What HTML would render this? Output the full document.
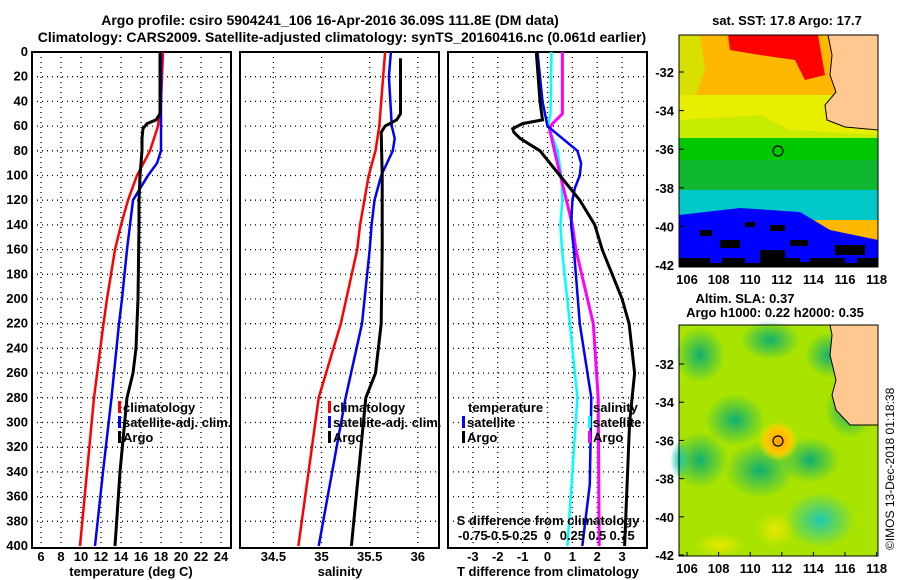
<!DOCTYPE html>
<html><head><meta charset="utf-8">
<style>
body{margin:0;background:#fff;}
svg{display:block;font-family:"Liberation Sans",sans-serif;font-weight:bold;}
text{font-size:13px;fill:#000;}
</style></head>
<body>
<svg id="c" width="900" height="580" viewBox="0 0 900 580">
<text x="330" y="25" text-anchor="middle" style="font-size:14px">Argo profile: csiro 5904241_106 16-Apr-2016 36.09S 111.8E (DM data)</text>
<text x="342" y="42" text-anchor="middle" style="font-size:14px">Climatology: CARS2009. Satellite-adjusted climatology: synTS_20160416.nc (0.061d earlier)</text>
<g id="g"></g>
</svg>
<script>
// ---- data ----
const depthTicks=[0,20,40,60,80,100,120,140,160,180,200,220,240,260,280,300,320,340,360,380,400];
const tempTicks=[6,8,10,12,14,16,18,20,22,24];
const salTicks=[34.5,35,35.5,36];
const tdiffTicks=[-3,-2,-1,0,1,2,3];
const sdiffTicks=[-0.75,-0.5,-0.25,0,0.25,0.5,0.75];
const sdiffTickLabels=["-0.75","-0.5","-0.25","0","0.25","0.5","0.75"];

const climTD=[0,40,60,80,100,120,140,160,200,220,280,340,400];
const climT=[18.2,18.0,17.7,16.9,15.6,14.7,14.0,13.4,12.6,12.25,11.3,10.6,9.9];
const satTD=[0,80,90,100,120,140,160,200,220,280,340,400];
const satT=[18.0,18.0,17.6,16.7,15.2,14.9,14.6,14.1,13.8,13.05,12.2,11.4];
const argoTD=[0,50,55,58,62,70,80,100,120,140,200,240,260,280,340,400];
const argoT=[17.9,17.9,17.5,16.6,16.2,16.1,16.1,15.9,15.8,15.8,15.7,15.5,15.2,14.6,13.9,13.4];

const climSD=[0,60,80,100,140,160,220,280,400];
const climS=[35.66,35.6,35.56,35.49,35.4,35.37,35.2,34.97,34.76];
const satSD=[0,20,60,70,80,100,120,140,160,220,280,400];
const satS=[35.72,35.7,35.73,35.76,35.74,35.62,35.55,35.52,35.5,35.42,35.25,34.97];
const argoSD=[5,30,50,55,60,65,100,160,220,260,280,400];
const argoS=[35.82,35.82,35.82,35.78,35.66,35.62,35.63,35.63,35.62,35.56,35.46,35.31];

const dTD=[0,40,55,58,62,65,70,80,100,120,140,160,180,200,220,260,280,300,400];
const argoDT=[-0.45,-0.3,-0.2,-1.0,-1.4,-1.35,-1.1,-0.3,0.5,1.3,1.9,2.2,2.6,3.0,3.28,3.5,3.4,3.3,3.1];
const satDD=[0,40,60,80,90,100,110,120,140,160,220,280,350,400];
const satDT=[-0.4,-0.2,0.0,1.2,1.35,1.3,1.1,1.0,0.95,1.06,1.3,1.76,1.7,1.4];
const sDD=[0,50,58,62,80,100,120,140,160,220,280,400];
const argoDS=[0.15,0.15,0.05,0.02,0.07,0.13,0.19,0.25,0.285,0.46,0.51,0.52];
const satDS=[0.04,0.03,0.01,0.02,0.1,0.14,0.15,0.13,0.146,0.225,0.3,0.2];

// ---- helpers ----
const NS="http://www.w3.org/2000/svg";
const G=document.getElementById('g');
function mk(t,a,p){const e=document.createElementNS(NS,t);for(const k in a)e.setAttribute(k,a[k]);(p||G).appendChild(e);return e;}
const Y0=52,Y1=546;
const yD=d=>Y0+(d/400)*(Y1-Y0);
const panels=[{x0:32,x1:231,lo:5.1,hi:25,name:'temperature'},{x0:240,x1:439,lo:34.153,hi:36.22,name:'salinity'},{x0:448,x1:647,lo:-4,hi:4,name:'tdiff'}];
const sx=(p,v)=>p.x0+(v-p.lo)/(p.hi-p.lo)*(p.x1-p.x0);

depthTicks.forEach(d=>{
  const t=mk('text',{x:28,y:yD(d)+4,'text-anchor':'end'});t.textContent=d;
  
  
});
const xTickSets=[tempTicks,salTicks,tdiffTicks];
panels.forEach((p,i)=>{
  const pg=mk('g',{});
  
  
  depthTicks.slice(1,-1).forEach(d=>mk('line',{x1:p.x0,x2:p.x1,y1:yD(d),y2:yD(d),stroke:'#000','stroke-dasharray':'1,4','stroke-width':1.3},pg));
  xTickSets[i].forEach(v=>{
    const x=sx(p,v);
    mk('line',{x1:x,x2:x,y1:Y0,y2:Y1+2,stroke:'#000','stroke-dasharray':'1,4','stroke-width':1.3},pg);
    const t=mk('text',{x:x,y:561,'text-anchor':'middle'},pg);t.textContent=v;
    
    
  });
  mk('rect',{x:p.x0,y:Y0,width:p.x1-p.x0,height:Y1+2-Y0,fill:'none',stroke:'#000','stroke-width':2},pg);
});
function line(p,vals,depths,col,w,name,scale){
  const pts=vals.map((v,k)=>sx(p,v*(scale||1)).toFixed(1)+','+yD(depths[k]).toFixed(1)).join(' ');
  const e=mk('polyline',{points:pts,fill:'none',stroke:col,'stroke-width':w});
  
  
}
line(panels[0],climT,climTD,'#f00',2.5,'temp-climatology-line');
line(panels[0],satT,satTD,'#00f',2.5,'temp-satellite-line');
line(panels[0],argoT,argoTD,'#000',3,'temp-argo-line');
line(panels[1],climS,climSD,'#f00',2.5,'sal-climatology-line');
line(panels[1],satS,satSD,'#00f',2.5,'sal-satellite-line');
line(panels[1],argoS,argoSD,'#000',3,'sal-argo-line');
line(panels[2],satDS,sDD,'#0ff',2.5,'sdiff-satellite-line',4);
line(panels[2],argoDS,sDD,'#f0f',3,'sdiff-argo-line',4);
line(panels[2],satDT,satDD,'#00f',2.5,'tdiff-satellite-line');
line(panels[2],argoDT,dTD,'#000',3,'tdiff-argo-line');

function leg(x,y,col,label,name){
  if(col)mk('rect',{x:x,y:y-11,width:3,height:12,fill:col});
  const t=mk('text',{x:x+5,y:y});t.textContent=label;
  
  
}
leg(118,412,'#f00','climatology','legend-climatology');
leg(118,427,'#00f','satellite-adj. clim.','legend-satellite-adj');
leg(118,442,'#000','Argo','legend-argo');
leg(328,412,'#f00','climatology','legend-climatology-2');
leg(328,427,'#00f','satellite-adj. clim.','legend-satellite-adj-2');
leg(328,442,'#000','Argo','legend-argo-2');
leg(463,412,null,'temperature','legend-temperature-title');
leg(462,427,'#00f','satellite','legend-t-satellite');
leg(462,442,'#000','Argo','legend-t-argo');
leg(588,412,null,'salinity','legend-salinity-title');
leg(588,427,'#0ff','satellite','legend-s-satellite');
leg(588,442,'#f0f','Argo','legend-s-argo');
{const t=mk('text',{x:548,y:525,'text-anchor':'middle'});t.textContent='S difference from climatology';
}
sdiffTicks.forEach((v,k)=>{const t=mk('text',{x:sx(panels[2],v*4),y:540,'text-anchor':'middle'});t.textContent=sdiffTickLabels[k];
});
[['temperature (deg C)',131,'temp-axis-title'],['salinity',340,'sal-axis-title'],['T difference from climatology',548,'tdiff-axis-title']].forEach(a=>{
  const t=mk('text',{x:a[1],y:576,'text-anchor':'middle'});t.textContent=a[0];
  });
</script>

<svg width="900" height="580" style="position:absolute;left:0;top:0">
<defs>
<radialGradient id="blobG"><stop offset="0" stop-color="#10b070"/><stop offset="1" stop-color="#10b070" stop-opacity="0"/></radialGradient>
<radialGradient id="blobO"><stop offset="0" stop-color="#ffa000"/><stop offset="0.6" stop-color="#ffc800"/><stop offset="1" stop-color="#ffe000" stop-opacity="0"/></radialGradient>
<radialGradient id="blobY"><stop offset="0" stop-color="#e8e800"/><stop offset="1" stop-color="#e8e800" stop-opacity="0"/></radialGradient>
<radialGradient id="blobC"><stop offset="0" stop-color="#20c8b0"/><stop offset="1" stop-color="#20c8b0" stop-opacity="0"/></radialGradient>
</defs>
<text x="787" y="25" text-anchor="middle">sat. SST: 17.8 Argo: 17.7</text>
<g>
<rect x="679" y="35" width="199" height="232" fill="#ffb800"/>
<polygon points="679,35 700,35 705,70 690,110 679,115" fill="#d8e000"/>
<rect x="679" y="95" width="199" height="40" fill="#e8ee00"/>
<polygon points="679,120 760,115 790,130 878,135 878,150 679,150" fill="#c8ec00"/>
<rect x="679" y="138" width="199" height="55" fill="#00c800"/>
<rect x="679" y="160" width="199" height="35" fill="#10b830"/>
<rect x="679" y="190" width="199" height="30" fill="#00c8c8"/>
<polygon points="679,215 740,208 800,212 830,230 878,240 878,267 679,267" fill="#0000ff"/>
<polygon points="728,35 818,35 825,75 805,80 795,60 760,55 730,50" fill="#ff0000"/>
<rect x="679" y="258" width="199" height="9" fill="#000"/>
<rect x="710" y="258" width="12" height="5" fill="#0000ff"/>
<rect x="745" y="258" width="15" height="5" fill="#0000ff"/>
<rect x="800" y="258" width="10" height="4" fill="#0000ff"/>
<rect x="845" y="258" width="12" height="5" fill="#0000ff"/>
<rect x="720" y="240" width="20" height="8" fill="#000"/>
<rect x="770" y="225" width="15" height="6" fill="#000"/>
<rect x="835" y="245" width="30" height="10" fill="#000"/>
<rect x="760" y="250" width="25" height="8" fill="#000"/>
<rect x="700" y="230" width="12" height="6" fill="#000"/>
<rect x="745" y="222" width="10" height="5" fill="#000"/>
<rect x="790" y="240" width="18" height="6" fill="#000"/>
<polygon points="828,35 878,35 878,130 845,127 827,120 825,105 836,92 830,75 832,55" fill="#ffc890" stroke="#000" stroke-width="1"/>
<circle cx="778" cy="151" r="5" fill="none" stroke="#000" stroke-width="1.2"/>
<rect x="679" y="35" width="199" height="232" fill="none" stroke="#000" stroke-width="1"/>
</g>
<text x="745" y="303" text-anchor="middle">Altim. SLA: 0.37</text>
<text x="775" y="317" text-anchor="middle">Argo h1000: 0.22 h2000: 0.35</text>
<g>
<rect x="679" y="325" width="199" height="231" fill="#a8e400"/>
<ellipse cx="700" cy="355" rx="25" ry="28" fill="url(#blobG)"/>
<ellipse cx="770" cy="340" rx="30" ry="20" fill="url(#blobG)"/>
<ellipse cx="735" cy="420" rx="30" ry="26" fill="url(#blobG)"/>
<ellipse cx="700" cy="460" rx="28" ry="28" fill="url(#blobG)"/>
<ellipse cx="760" cy="470" rx="35" ry="28" fill="url(#blobG)"/>
<ellipse cx="820" cy="520" rx="35" ry="28" fill="url(#blobC)"/>
<ellipse cx="810" cy="460" rx="30" ry="23" fill="url(#blobG)"/>
<ellipse cx="850" cy="410" rx="25" ry="28" fill="url(#blobG)"/>
<ellipse cx="830" cy="355" rx="25" ry="23" fill="url(#blobG)"/>
<ellipse cx="680" cy="460" rx="10" ry="20" fill="url(#blobC)"/>
<ellipse cx="778" cy="441" rx="20" ry="20" fill="url(#blobO)"/>
<ellipse cx="775" cy="530" rx="20" ry="18" fill="url(#blobY)"/>
<ellipse cx="720" cy="545" rx="25" ry="12" fill="url(#blobY)"/>
<polygon points="830,325 878,325 878,425 850,425 836,410 832,395 836,380 830,355 832,335" fill="#ffc890" stroke="#000" stroke-width="1"/>
<circle cx="778" cy="441" r="5" fill="none" stroke="#000" stroke-width="1.2"/>
<rect x="679" y="325" width="199" height="231" fill="none" stroke="#000" stroke-width="1"/>
</g>
<g id="maplabels"></g>
<text transform="translate(894,550) rotate(-90)" style="font-size:12px;font-weight:normal">©IMOS 13-Dec-2018 01:18:38</text>
</svg>
<script>
const lonTicks=[106,108,110,112,114,116,118];
const latTicks=[-32,-34,-36,-38,-40,-42];
const ML=document.getElementById('maplabels');
const NS2="http://www.w3.org/2000/svg";
function mk2(t,a){const e=document.createElementNS(NS2,t);for(const k in a)e.setAttribute(k,a[k]);ML.appendChild(e);return e;}
const lonX=v=>687+(v-106)*15.8;
[[35,267,72,19.3,284],[325,556,364,19.1,573]].forEach(m=>{
  lonTicks.forEach(v=>{
    const t=mk2('text',{x:lonX(v),y:m[4],'text-anchor':'middle'});t.textContent=v;
    
    
    mk2('line',{x1:lonX(v),x2:lonX(v),y1:m[1],y2:m[1]-4,stroke:'#000'});
  });
  latTicks.forEach(v=>{
    const y=m[2]+(-32-v)*m[3];
    const t=mk2('text',{x:674,y:y+5,'text-anchor':'end'});t.textContent=v;
    
    
    mk2('line',{x1:679,x2:684,y1:y,y2:y,stroke:'#000'});
  });
});
</script>
</body></html>
